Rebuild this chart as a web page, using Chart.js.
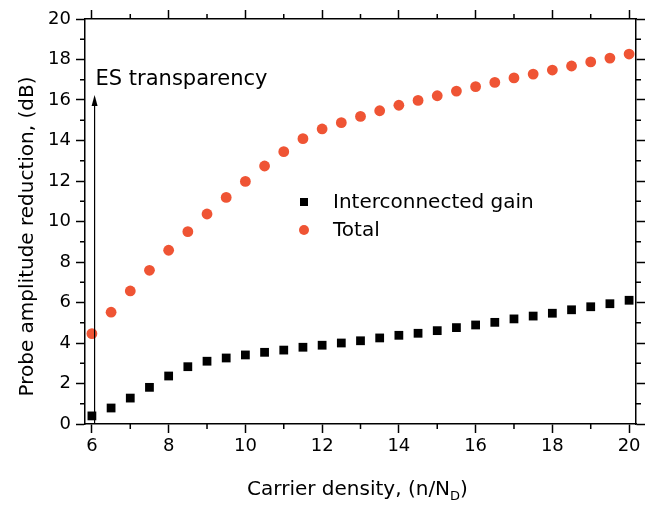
<!DOCTYPE html>
<html>
<head>
<meta charset="utf-8">
<script src="https://cdn.jsdelivr.net/npm/chart.js@4.4.0/dist/chart.umd.min.js"></script>
<style>
  body { margin: 0; background: #fff; }
</style>
</head>
<body>
<canvas id="chartProbe" width="653" height="505"></canvas>
<script>
// values
const density = [6, 6.5, 7, 7.5, 8, 8.5, 9, 9.5, 10, 10.5, 11, 11.5, 12, 12.5, 13,
  13.5, 14, 14.5, 15, 15.5, 16, 16.5, 17, 17.5, 18, 18.5, 19, 19.5, 20];
const interconnectedGain = [0.40, 0.79, 1.28, 1.81, 2.37, 2.83, 3.10, 3.26, 3.41, 3.54, 3.65, 3.79, 3.89, 4.00, 4.11,
  4.25, 4.38, 4.48, 4.61, 4.76, 4.89, 5.02, 5.19, 5.33, 5.47, 5.64, 5.79, 5.94, 6.11];
const totalReduction = [4.46, 5.52, 6.57, 7.59, 8.58, 9.50, 10.37, 11.19, 11.98, 12.74, 13.45, 14.09, 14.57, 14.88, 15.19,
  15.47, 15.74, 15.98, 16.21, 16.44, 16.66, 16.87, 17.09, 17.28, 17.48, 17.68, 17.88, 18.07, 18.27];
const seriesNames = ['Interconnected gain', 'Total'];
const xTicks = [6, 8, 10, 12, 14, 16, 18, 20];
const yTicks = [0, 2, 4, 6, 8, 10, 12, 14, 16, 18, 20];
const xMinor = [7, 9, 11, 13, 15, 17, 19];
const yMinor = [1, 3, 5, 7, 9, 11, 13, 15, 17, 19];
// ES transparency arrow: x position and tip height
const arrowX = 6.07;
const arrowTop = 16.25;

const FONT = 'DejaVu Sans';
const RED = '#ef5434';

function toPoints(xs, ys) {
  return xs.map((x, i) => ({ x: x, y: ys[i] }));
}

function axis(pos, min, max, list, size, showLabels) {
  const horiz = pos === 'top' || pos === 'bottom';
  return {
    type: 'linear',
    position: pos,
    min: min,
    max: max,
    afterBuildTicks: s => { s.ticks = list.map(v => ({ value: v })); },
    afterFit: s => { if (horiz) s.height = size; else s.width = size; },
    ticks: {
      display: showLabels,
      color: '#000',
      font: { family: FONT, size: 18 },
      padding: horiz ? 3 : 5,
      maxRotation: 0,
      callback: v => String(v)
    },
    grid: { drawOnChartArea: false, tickLength: 9, tickWidth: 1.5, tickColor: '#000' },
    border: { color: '#000', width: 1.5 }
  };
}

const extras = {
  id: 'extras',
  afterDraw(chart) {
    const ctx = chart.ctx;
    const sx = chart.scales.x, sy = chart.scales.y;
    const area = chart.chartArea;
    ctx.save();
    ctx.strokeStyle = '#000';
    ctx.fillStyle = '#000';
    ctx.lineWidth = 1.5;

    // minor ticks on all four sides
    ctx.beginPath();
    xMinor.forEach(v => {
      const px = sx.getPixelForValue(v);
      ctx.moveTo(px, area.bottom); ctx.lineTo(px, area.bottom + 5);
      ctx.moveTo(px, area.top); ctx.lineTo(px, area.top - 5);
    });
    yMinor.forEach(v => {
      const py = sy.getPixelForValue(v);
      ctx.moveTo(area.left, py); ctx.lineTo(area.left - 5, py);
      ctx.moveTo(area.right, py); ctx.lineTo(area.right + 5, py);
    });
    ctx.stroke();

    // arrow
    const ax = sx.getPixelForValue(arrowX);
    const ay0 = sy.getPixelForValue(0);
    const ay1 = sy.getPixelForValue(arrowTop);
    ctx.lineWidth = 1.2;
    ctx.beginPath();
    ctx.moveTo(ax, ay0); ctx.lineTo(ax, ay1 + 8);
    ctx.stroke();
    ctx.beginPath();
    ctx.moveTo(ax, ay1);
    ctx.lineTo(ax - 3, ay1 + 11);
    ctx.lineTo(ax + 3, ay1 + 11);
    ctx.closePath();
    ctx.fill();

    ctx.font = '21px "' + FONT + '"';
    ctx.textAlign = 'left';
    ctx.textBaseline = 'alphabetic';
    ctx.fillText('ES transparency', ax + 1, ay1 - 10);

    // legend
    const ds = chart.data.datasets;
    const lx = area.left + 219;
    const rows = [area.top + 183, area.top + 211];
    ctx.font = '20px "' + FONT + '"';
    ctx.textBaseline = 'middle';
    ds.forEach((d, i) => {
      ctx.fillStyle = d.backgroundColor;
      if (d.pointStyle === 'rect') {
        ctx.fillRect(lx - 4, rows[i] - 4, 8, 8);
      } else {
        ctx.beginPath();
        ctx.arc(lx, rows[i], 5, 0, Math.PI * 2);
        ctx.fill();
      }
      ctx.fillStyle = '#000';
      ctx.fillText(d.label, lx + 29, rows[i] + 1);
    });

    // axis titles
    ctx.fillStyle = '#000';
    ctx.textBaseline = 'alphabetic';
    ctx.font = '20px "' + FONT + '"';
    const partA = 'Carrier density, (n/N', sub = 'D', partB = ')';
    const wA = ctx.measureText(partA).width;
    const wB = ctx.measureText(partB).width;
    ctx.font = '13px "' + FONT + '"';
    const wS = ctx.measureText(sub).width;
    const total = wA + wS + wB;
    let tx = (area.left + area.right) / 2 - 3 - total / 2;
    const ty = 495;
    ctx.textAlign = 'left';
    ctx.font = '20px "' + FONT + '"';
    ctx.fillText(partA, tx, ty);
    ctx.font = '13px "' + FONT + '"';
    ctx.fillText(sub, tx + wA, ty + 5);
    ctx.font = '20px "' + FONT + '"';
    ctx.fillText(partB, tx + wA + wS, ty);

    ctx.translate(33, (area.top + area.bottom) / 2 + 15);
    ctx.rotate(-Math.PI / 2);
    ctx.textAlign = 'center';
    ctx.fillText('Probe amplitude reduction, (dB)', 0, 0);
    ctx.restore();
  }
};

function createProbeChart() {
  const ctx = document.getElementById('chartProbe').getContext('2d');
  return new Chart(ctx, {
    type: 'scatter',
    data: {
      datasets: [{
        label: seriesNames[0],
        data: toPoints(density, interconnectedGain),
        pointStyle: 'rect',
        pointRadius: 6.2,
        backgroundColor: '#000',
        borderColor: '#000',
        borderWidth: 0
      }, {
        label: seriesNames[1],
        data: toPoints(density, totalReduction),
        pointStyle: 'circle',
        pointRadius: 5.4,
        backgroundColor: RED,
        borderColor: RED,
        borderWidth: 0
      }]
    },
    options: {
      responsive: false,
      animation: false,
      events: [],
      layout: { padding: 0 },
      plugins: {
        legend: { display: false },
        tooltip: { enabled: false }
      },
      scales: {
        x: axis('bottom', 5.82, 20.18, xTicks, 81, true),
        x2: axis('top', 5.82, 20.18, xTicks, 19, false),
        y: axis('left', 0, 20, yTicks, 85, true),
        y2: axis('right', 0, 20, yTicks, 17, false)
      }
    },
    plugins: [extras]
  });
}

createProbeChart();
</script>
</body>
</html>
